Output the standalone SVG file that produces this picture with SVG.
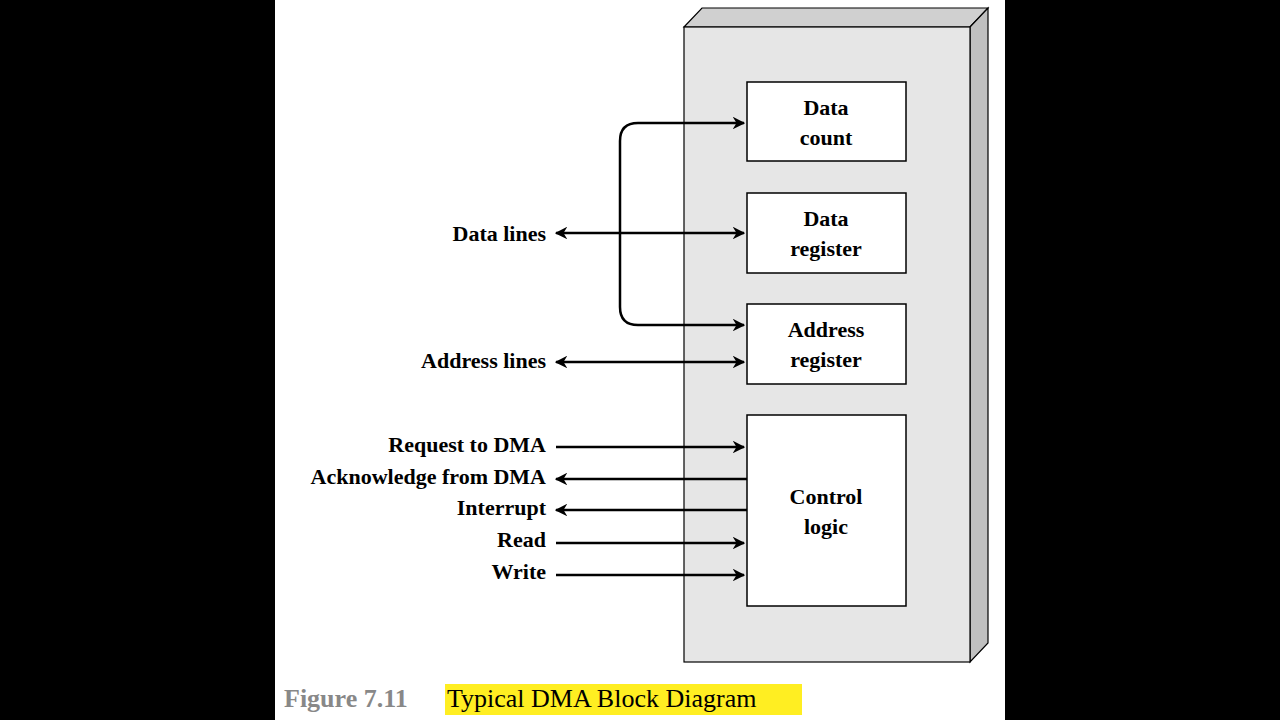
<svg xmlns="http://www.w3.org/2000/svg" width="1280" height="720" viewBox="0 0 1280 720">
<style>
.t{font-family:"Liberation Serif",serif;font-weight:bold;font-size:22px;fill:#000}
.l{text-anchor:end}
.c{text-anchor:middle}
.reg{fill:#fff;stroke:#000;stroke-width:1.5}
.w{stroke:#000;stroke-width:2.5;fill:none}
</style>
<defs>
<marker id="a" viewBox="0 0 10 10" refX="9" refY="5" markerWidth="5" markerHeight="5" orient="auto-start-reverse"><path d="M0,0 L10,5 L0,10 L3,5 z" fill="#000"/></marker>
</defs>
<rect width="1280" height="720" fill="#000"/>
<rect x="275" y="0" width="730" height="720" fill="#fff"/>
<g id="dma">
<polygon points="684,27 702,8 988,8 970,27" fill="#d0d0d0" stroke="#000" stroke-width="1.2"/>
<polygon points="970,27 988,8 988,643 970,662" fill="#c0c0c0" stroke="#000" stroke-width="1.2"/>
<rect x="684" y="27" width="286" height="635" fill="#e6e6e6" stroke="#000" stroke-width="1.2"/>
</g>
<g id="datacount"><rect class="reg" x="747" y="82" width="159" height="79"/><text class="t c" x="826" y="115">Data</text><text class="t c" x="826" y="145">count</text></g>
<g id="dataregister"><rect class="reg" x="747" y="193" width="159" height="80"/><text class="t c" x="826" y="226">Data</text><text class="t c" x="826" y="256">register</text></g>
<g id="addressregister"><rect class="reg" x="747" y="304" width="159" height="80"/><text class="t c" x="826" y="337">Address</text><text class="t c" x="826" y="367">register</text></g>
<g id="controllogic"><rect class="reg" x="747" y="415" width="159" height="191"/><text class="t c" x="826" y="504">Control</text><text class="t c" x="826" y="534">logic</text></g>
<g id="labels">
<text class="t l" x="546" y="241">Data lines</text>
<text class="t l" x="546" y="368">Address lines</text>
<text class="t l" x="546" y="452">Request to DMA</text>
<text class="t l" x="546" y="484">Acknowledge from DMA</text>
<text class="t l" x="546" y="515">Interrupt</text>
<text class="t l" x="546" y="547">Read</text>
<text class="t l" x="546" y="579">Write</text>
</g>
<g id="connectors">
<path class="w" d="M556,233 H744" marker-start="url(#a)" marker-end="url(#a)"/>
<path class="w" d="M744,123 H638 Q620,123 620,141 V307 Q620,325 638,325 H744" marker-start="url(#a)" marker-end="url(#a)"/>
<path class="w" d="M556,362 H744" marker-start="url(#a)" marker-end="url(#a)"/>
<path class="w" d="M556,447 H744" marker-end="url(#a)"/>
<path class="w" d="M747,479 H556" marker-end="url(#a)"/>
<path class="w" d="M747,510 H556" marker-end="url(#a)"/>
<path class="w" d="M556,543 H744" marker-end="url(#a)"/>
<path class="w" d="M556,575 H744" marker-end="url(#a)"/>
</g>
<rect x="445" y="684" width="357" height="31" fill="#ffee22"/>
<text x="284" y="707" font-family="Liberation Serif,serif" font-weight="bold" font-size="26" fill="#888">Figure 7.11</text>
<text x="447" y="707" font-family="Liberation Serif,serif" font-size="26" fill="#000">Typical DMA Block Diagram</text>
</svg>
